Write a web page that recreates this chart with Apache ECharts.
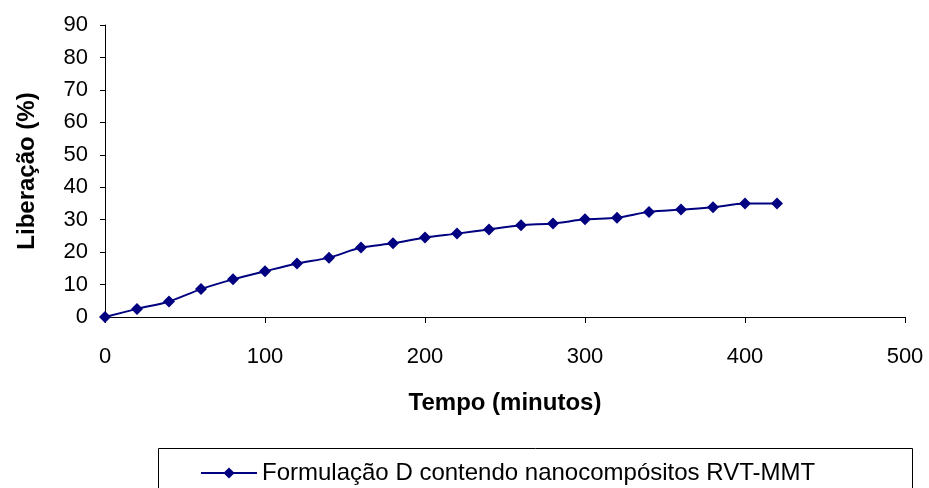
<!DOCTYPE html>
<html>
<head>
<meta charset="utf-8">
<script src="https://cdn.jsdelivr.net/npm/echarts@6/dist/echarts.min.js"></script>
<style>
  html, body { margin: 0; padding: 0; background: #fff; }
  #chart { width: 929px; height: 488px; }
</style>
</head>
<body>
<div id="chart"></div>
<script>
// Release profile over time
const tempoMin = [0, 20, 40, 60, 80, 100, 120, 140, 160, 180, 200, 220, 240, 260, 280, 300, 320, 340, 360, 380, 400, 420];
const liberacao = [0, 2.5, 4.8, 8.6, 11.6, 14.1, 16.5, 18.3, 21.4, 22.7, 24.5, 25.7, 27.0, 28.3, 28.8, 30.1, 30.6, 32.4, 33.1, 33.8, 35.0, 35.0];
const seriesName = 'Formulação D contendo nanocompósitos RVT-MMT';
const xTitle = 'Tempo (minutos)';
const yTitle = 'Liberação (%)';

const font = 'Arial, "Liberation Sans", sans-serif';
const navy = '#000080';

const chart = echarts.init(document.getElementById('chart'), null, { renderer: 'canvas' });
chart.setOption({
  animation: false,
  backgroundColor: '#fff',
  textStyle: { fontFamily: font, color: '#000' },
  grid: { left: 105, right: 24, top: 25, bottom: 171, containLabel: false },
  xAxis: {
    type: 'value', min: 0, max: 500, interval: 100,
    name: xTitle, nameLocation: 'middle', nameGap: 74,
    nameTextStyle: { fontFamily: font, fontSize: 24, fontWeight: 'bold', color: '#000' },
    axisLine: { show: true, onZero: false, lineStyle: { color: '#000', width: 1 } },
    axisTick: { show: true, length: 6, inside: false, lineStyle: { color: '#000' } },
    axisLabel: { fontFamily: font, fontSize: 22, color: '#000', margin: 29 },
    splitLine: { show: false }
  },
  yAxis: {
    type: 'value', min: 0, max: 90, interval: 10,
    name: yTitle, nameLocation: 'middle', nameGap: 66, nameRotate: 90,
    nameTextStyle: { fontFamily: font, fontSize: 24, fontWeight: 'bold', color: '#000' },
    axisLine: { show: true, lineStyle: { color: '#000', width: 1 } },
    axisTick: { show: true, length: 5, inside: false, lineStyle: { color: '#000' } },
    axisLabel: { fontFamily: font, fontSize: 22, color: '#000', margin: 17 },
    splitLine: { show: false }
  },
  legend: {
    show: true,
    left: 195, top: 456,
    itemWidth: 56, itemHeight: 14, itemGap: 10,
    textStyle: { fontFamily: font, fontSize: 24, color: '#000' },
    data: [seriesName]
  },
  graphic: [{
    type: 'rect',
    shape: { x: 158.5, y: 448.5, width: 754, height: 44 },
    style: { fill: 'none', stroke: '#000', lineWidth: 1 },
    silent: true
  }],
  series: [{
    name: seriesName,
    type: 'line',
    data: tempoMin.map((t, i) => [t, liberacao[i]]),
    smooth: 0.3,
    symbol: 'diamond',
    symbolSize: 12,
    showAllSymbol: true,
    lineStyle: { color: navy, width: 2 },
    itemStyle: { color: navy }
  }]
});
</script>
</body>
</html>
